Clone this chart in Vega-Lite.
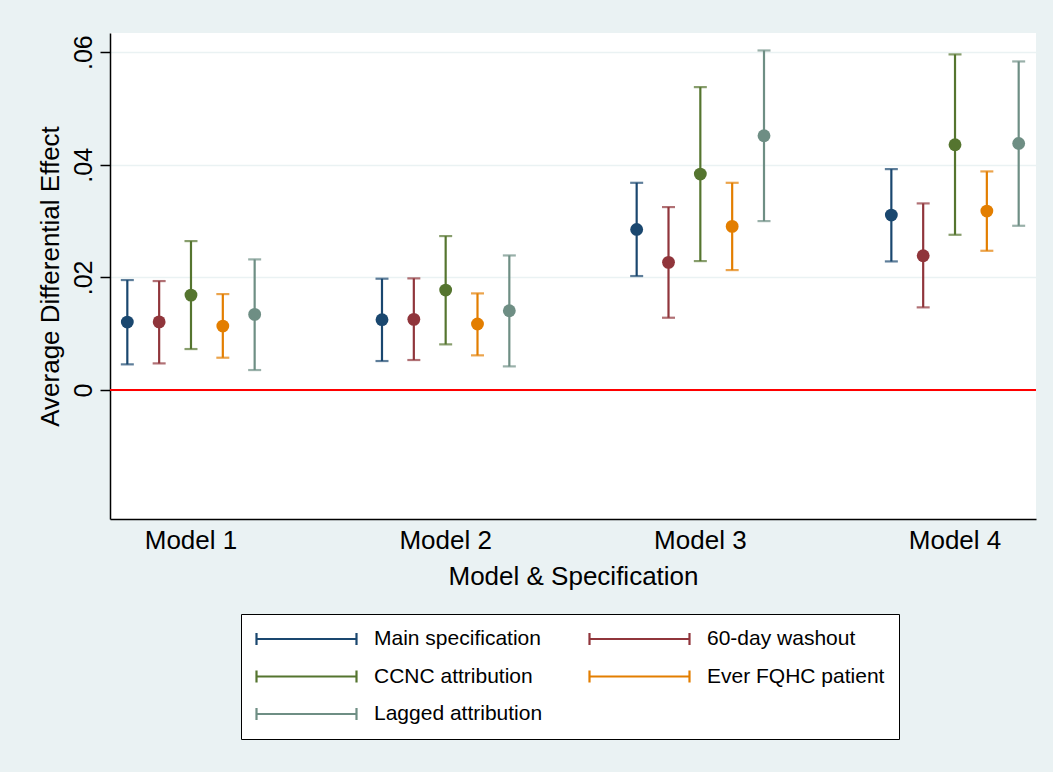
{
  "$schema": "https://vega.github.io/schema/vega-lite/v6.json",
  "width": 926,
  "height": 486,
  "autosize": {"type": "none"},
  "padding": {"left": 110, "top": 33, "right": 17, "bottom": 253},
  "background": "#EAF2F3",
  "config": {
    "view": {"fill": "white", "stroke": null},
    "font": "Liberation Sans",
    "axis": {"labelColor": "black", "titleColor": "black", "titleFontWeight": "normal", "domainColor": "black", "domainWidth": 1.5, "tickColor": "black", "tickWidth": 1.5}
  },
  "data": {
    "values": [
      {"model": "Model 1", "spec": "Main specification", "est": 0.01207, "lo": 0.00456, "hi": 0.01953},
      {"model": "Model 1", "spec": "60-day washout", "est": 0.0121, "lo": 0.00473, "hi": 0.01935},
      {"model": "Model 1", "spec": "CCNC attribution", "est": 0.01686, "lo": 0.00728, "hi": 0.02645},
      {"model": "Model 1", "spec": "Ever FQHC patient", "est": 0.01136, "lo": 0.00574, "hi": 0.01704},
      {"model": "Model 1", "spec": "Lagged attribution", "est": 0.01343, "lo": 0.00355, "hi": 0.0232},
      {"model": "Model 2", "spec": "Main specification", "est": 0.01249, "lo": 0.00515, "hi": 0.01977},
      {"model": "Model 2", "spec": "60-day washout", "est": 0.01255, "lo": 0.00533, "hi": 0.01983},
      {"model": "Model 2", "spec": "CCNC attribution", "est": 0.01775, "lo": 0.00811, "hi": 0.02734},
      {"model": "Model 2", "spec": "Ever FQHC patient", "est": 0.01172, "lo": 0.00616, "hi": 0.01716},
      {"model": "Model 2", "spec": "Lagged attribution", "est": 0.01408, "lo": 0.0042, "hi": 0.0239},
      {"model": "Model 3", "spec": "Main specification", "est": 0.02852, "lo": 0.02024, "hi": 0.0368},
      {"model": "Model 3", "spec": "60-day washout", "est": 0.02267, "lo": 0.01284, "hi": 0.03249},
      {"model": "Model 3", "spec": "CCNC attribution", "est": 0.03835, "lo": 0.0229, "hi": 0.05379},
      {"model": "Model 3", "spec": "Ever FQHC patient", "est": 0.02906, "lo": 0.0213, "hi": 0.0368},
      {"model": "Model 3", "spec": "Lagged attribution", "est": 0.04515, "lo": 0.03, "hi": 0.0603},
      {"model": "Model 4", "spec": "Main specification", "est": 0.03107, "lo": 0.02284, "hi": 0.03923},
      {"model": "Model 4", "spec": "60-day washout", "est": 0.02385, "lo": 0.01468, "hi": 0.03314},
      {"model": "Model 4", "spec": "CCNC attribution", "est": 0.04355, "lo": 0.02757, "hi": 0.0596},
      {"model": "Model 4", "spec": "Ever FQHC patient", "est": 0.03178, "lo": 0.02473, "hi": 0.03882},
      {"model": "Model 4", "spec": "Lagged attribution", "est": 0.04379, "lo": 0.02917, "hi": 0.05835}
    ]
  },
  "layer": [
    {
      "mark": {"type": "rule", "strokeWidth": 2.2},
      "encoding": {
        "x": {"field": "model", "type": "nominal", "title": "Model & Specification",
          "scale": {"paddingInner": 0.5, "paddingOuter": 0.068},
          "axis": {"labelAngle": 0, "labelFontSize": 26, "ticks": false, "labelPadding": 8, "grid": false, "titleFontSize": 26, "titlePadding": 10}},
        "xOffset": {"field": "spec", "type": "nominal",
          "scale": {"type": "point", "padding": 0, "domain": ["Main specification", "60-day washout", "CCNC attribution", "Ever FQHC patient", "Lagged attribution"]}},
        "y": {"field": "lo", "type": "quantitative", "title": "Average Differential Effect",
          "scale": {"domain": [-0.0229, 0.0634], "nice": false, "zero": false},
          "axis": {"values": [0, 0.02, 0.04, 0.06], "labelExpr": "datum.value == 0 ? '0' : replace(format(datum.value, '.2f'), '0.', '.')",
            "labelAngle": -90, "labelAlign": "center", "labelBaseline": "bottom", "labelFontSize": 25, "labelPadding": 4, "tickSize": 10,
            "grid": true, "gridColor": "#EAF2F3", "gridWidth": 1.5, "titleFontSize": 26, "titlePadding": 8}},
        "y2": {"field": "hi"},
        "stroke": {"field": "spec", "type": "nominal",
          "scale": {"domain": ["Main specification", "60-day washout", "CCNC attribution", "Ever FQHC patient", "Lagged attribution"],
            "range": ["#1a476f", "#90353b", "#55752f", "#e37e00", "#6e8e84"]},
          "legend": {"title": null, "orient": "none", "legendX": 131, "legendY": 581, "columns": 2, "direction": "horizontal",
            "fillColor": "white", "strokeColor": "black", "padding": 14, "columnPadding": 45, "rowPadding": 15.5, "clipHeight": 22,
            "symbolType": "M-1,0H1M-1,-0.12V0.12M1,-0.12V0.12", "symbolSize": 10000, "symbolStrokeWidth": 2.2,
            "labelFontSize": 21, "labelOffset": 16, "labelColor": "black", "labelFont": "Liberation Sans", "labelLimit": 400}}
      }
    },
    {
      "mark": {"type": "tick", "thickness": 2.2, "size": 13},
      "encoding": {
        "x": {"field": "model", "type": "nominal"},
        "xOffset": {"field": "spec", "type": "nominal"},
        "y": {"field": "lo", "type": "quantitative"},
        "color": {"field": "spec", "type": "nominal",
          "scale": {"domain": ["Main specification", "60-day washout", "CCNC attribution", "Ever FQHC patient", "Lagged attribution"],
            "range": ["#1a476f", "#90353b", "#55752f", "#e37e00", "#6e8e84"]}, "legend": null}
      }
    },
    {
      "mark": {"type": "tick", "thickness": 2.2, "size": 13},
      "encoding": {
        "x": {"field": "model", "type": "nominal"},
        "xOffset": {"field": "spec", "type": "nominal"},
        "y": {"field": "hi", "type": "quantitative"},
        "color": {"field": "spec", "type": "nominal", "legend": null}
      }
    },
    {
      "data": {"values": [{"ref": 0}]},
      "mark": {"type": "rule", "color": "#ff0000", "strokeWidth": 2},
      "encoding": {"y": {"field": "ref", "type": "quantitative"}}
    },
    {
      "mark": {"type": "point", "filled": true, "opacity": 1, "size": 165},
      "encoding": {
        "x": {"field": "model", "type": "nominal"},
        "xOffset": {"field": "spec", "type": "nominal"},
        "y": {"field": "est", "type": "quantitative"},
        "color": {"field": "spec", "type": "nominal", "legend": null}
      }
    }
  ]
}
